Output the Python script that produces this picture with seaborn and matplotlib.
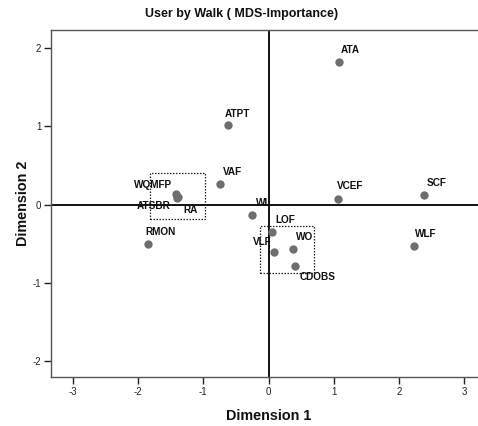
import matplotlib
matplotlib.use("Agg")
import matplotlib.pyplot as plt
import seaborn as sns
import pandas as pd
from matplotlib.patches import Rectangle

# ---- data ----
labels = ["ATA", "ATPT", "VAF", "WQMFP", "ATSBR", "RA", "RMON", "WL",
          "LOF", "VLF", "WO", "CDOBS", "VCEF", "SCF", "WLF"]
dim1 = [1.08, -0.62, -0.75, -1.42, -1.40, -1.38, -1.84, -0.25,
        0.055, 0.09, 0.38, 0.41, 1.07, 2.38, 2.22]
dim2 = [1.82, 1.02, 0.27, 0.13, 0.08, 0.10, -0.50, -0.13,
        -0.35, -0.61, -0.56, -0.78, 0.07, 0.12, -0.53]
x_ticks = [-3, -2, -1, 0, 1, 2, 3]
y_ticks = [-2, -1, 0, 1, 2]
# dashed grouping boxes: (x0, x1, y0, y1) in data units
boxes = [(-1.81, -0.975, -0.185, 0.41), (-0.133, 0.70, -0.87, -0.27)]

# label offsets in pixels (dx, dy, ha)
offsets = {
    "ATA": (2, 12, "left"), "ATPT": (-3, 11, "left"), "VAF": (3, 12, "left"),
    "WQMFP": (-4, 9, "right"), "ATSBR": (-7, -8, "right"), "RA": (5, -13, "left"),
    "RMON": (-3, 12, "left"), "WL": (4, 12, "left"), "LOF": (3, 12, "left"),
    "VLF": (-3, 10, "right"), "WO": (3, 12, "left"), "CDOBS": (4, -11, "left"),
    "VCEF": (-1, 13, "left"), "SCF": (3, 12, "left"), "WLF": (1, 12, "left"),
}

df = pd.DataFrame({"label": labels, "Dimension 1": dim1, "Dimension 2": dim2})

sns.set_style("white")
plt.rcParams["font.family"] = ["Liberation Sans", "DejaVu Sans"]
plt.rcParams["axes.unicode_minus"] = False

fig = plt.figure(figsize=(4.78, 4.26), dpi=100)
ax = fig.add_axes([51 / 478, 49 / 426, 435 / 478, 347 / 426])

ax.axhline(0, color="black", lw=1.3, zorder=1)
ax.axvline(0, color="black", lw=1.3, zorder=1)

sns.scatterplot(data=df, x="Dimension 1", y="Dimension 2", ax=ax,
                color="#6e6e6e", s=36, edgecolor="#6e6e6e", linewidth=0, zorder=3)

for lab, xv, yv in zip(labels, dim1, dim2):
    dx, dy, ha = offsets[lab]
    ax.annotate(lab, (xv, yv), xytext=(dx * 0.72, dy * 0.72),
                textcoords="offset points", ha=ha, va="center",
                fontsize=7.2, fontweight="bold", color="#111111", zorder=4)

for x0, x1, y0, y1 in boxes:
    ax.add_patch(Rectangle((x0, y0), x1 - x0, y1 - y0, fill=False,
                           ls=(0, (1.2, 1.2)), lw=0.9, ec="#222222", zorder=2))

ax.set_xlim(-3.33, 3.33)
ax.set_ylim(-2.2, 2.23)
ax.set_xticks(x_ticks)
ax.set_yticks(y_ticks)
ax.tick_params(axis="both", direction="out", length=5, width=1, color="#222222",
               labelsize=7, labelcolor="#222222", bottom=True, left=True, pad=2)
for side in ["left", "top", "bottom"]:
    ax.spines[side].set_color("#555555")
    ax.spines[side].set_linewidth(1.0)
ax.spines["right"].set_visible(False)

ax.set_xlabel("Dimension 1", fontsize=10.4, fontweight="bold", labelpad=9,
              color="#111111")
ax.set_ylabel("Dimension 2", fontsize=10.4, fontweight="bold", labelpad=2,
              color="#111111")
fig.text(242 / 478, 1 - 14 / 426, "User by Walk ( MDS-Importance)", ha="center",
         va="center", fontsize=9, fontweight="bold", color="#111111")

fig.savefig("out.png", dpi=100)
